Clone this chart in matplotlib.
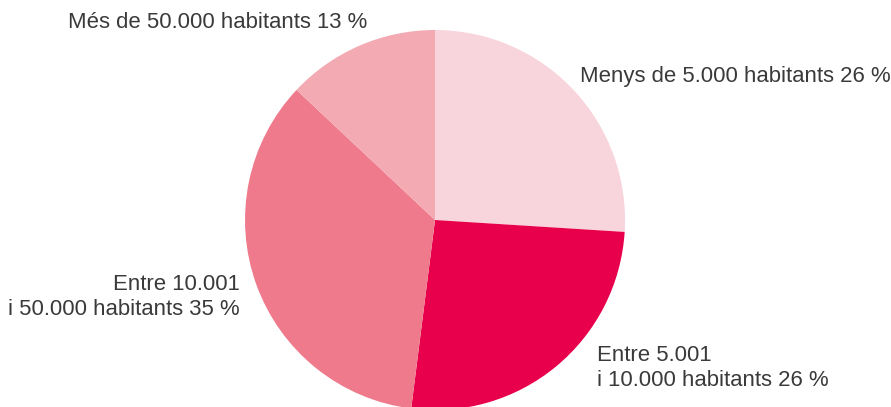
import matplotlib
matplotlib.use("Agg")
from matplotlib import pyplot as plt

# slices, clockwise from 12 o'clock
labels = ["Menys de 5.000 habitants", "Entre 5.001\ni 10.000 habitants",
          "Entre 10.001\ni 50.000 habitants", "Més de 50.000 habitants"]
shares = [26, 26, 35, 13]
colors = ["#F8D5DC", "#E8004C", "#EE7A8C", "#F3AAB3"]

# label placement (data coords of the unit pie) and alignment
label_pos = [(0.763, 0.753, "left"), (0.853, -0.779, "left"),
             (-1.026, -0.405, "right"), (-0.358, 1.042, "right")]

plt.rcParams["font.family"] = ["Liberation Sans", "DejaVu Sans"]

fig = plt.figure(figsize=(8.91, 4.07), dpi=100)
ax = fig.add_axes([0.2750, -0.0074, 0.4265, 0.9337])
ax.pie(shares, colors=colors, startangle=90, counterclock=False,
       radius=1, wedgeprops=dict(linewidth=0))
ax.set_xlim(-1, 1)
ax.set_ylim(-1, 1)
ax.set_aspect("equal")
ax.axis("off")

for lab, val, (x, y, ha) in zip(labels, shares, label_pos):
    ax.text(x, y, f"{lab} {val} %", ha=ha, va="center", multialignment=ha,
            fontsize=15.9, color="#3a3a3a", linespacing=1.28, clip_on=False)

plt.savefig("out.png", dpi=100)
plt.close()
